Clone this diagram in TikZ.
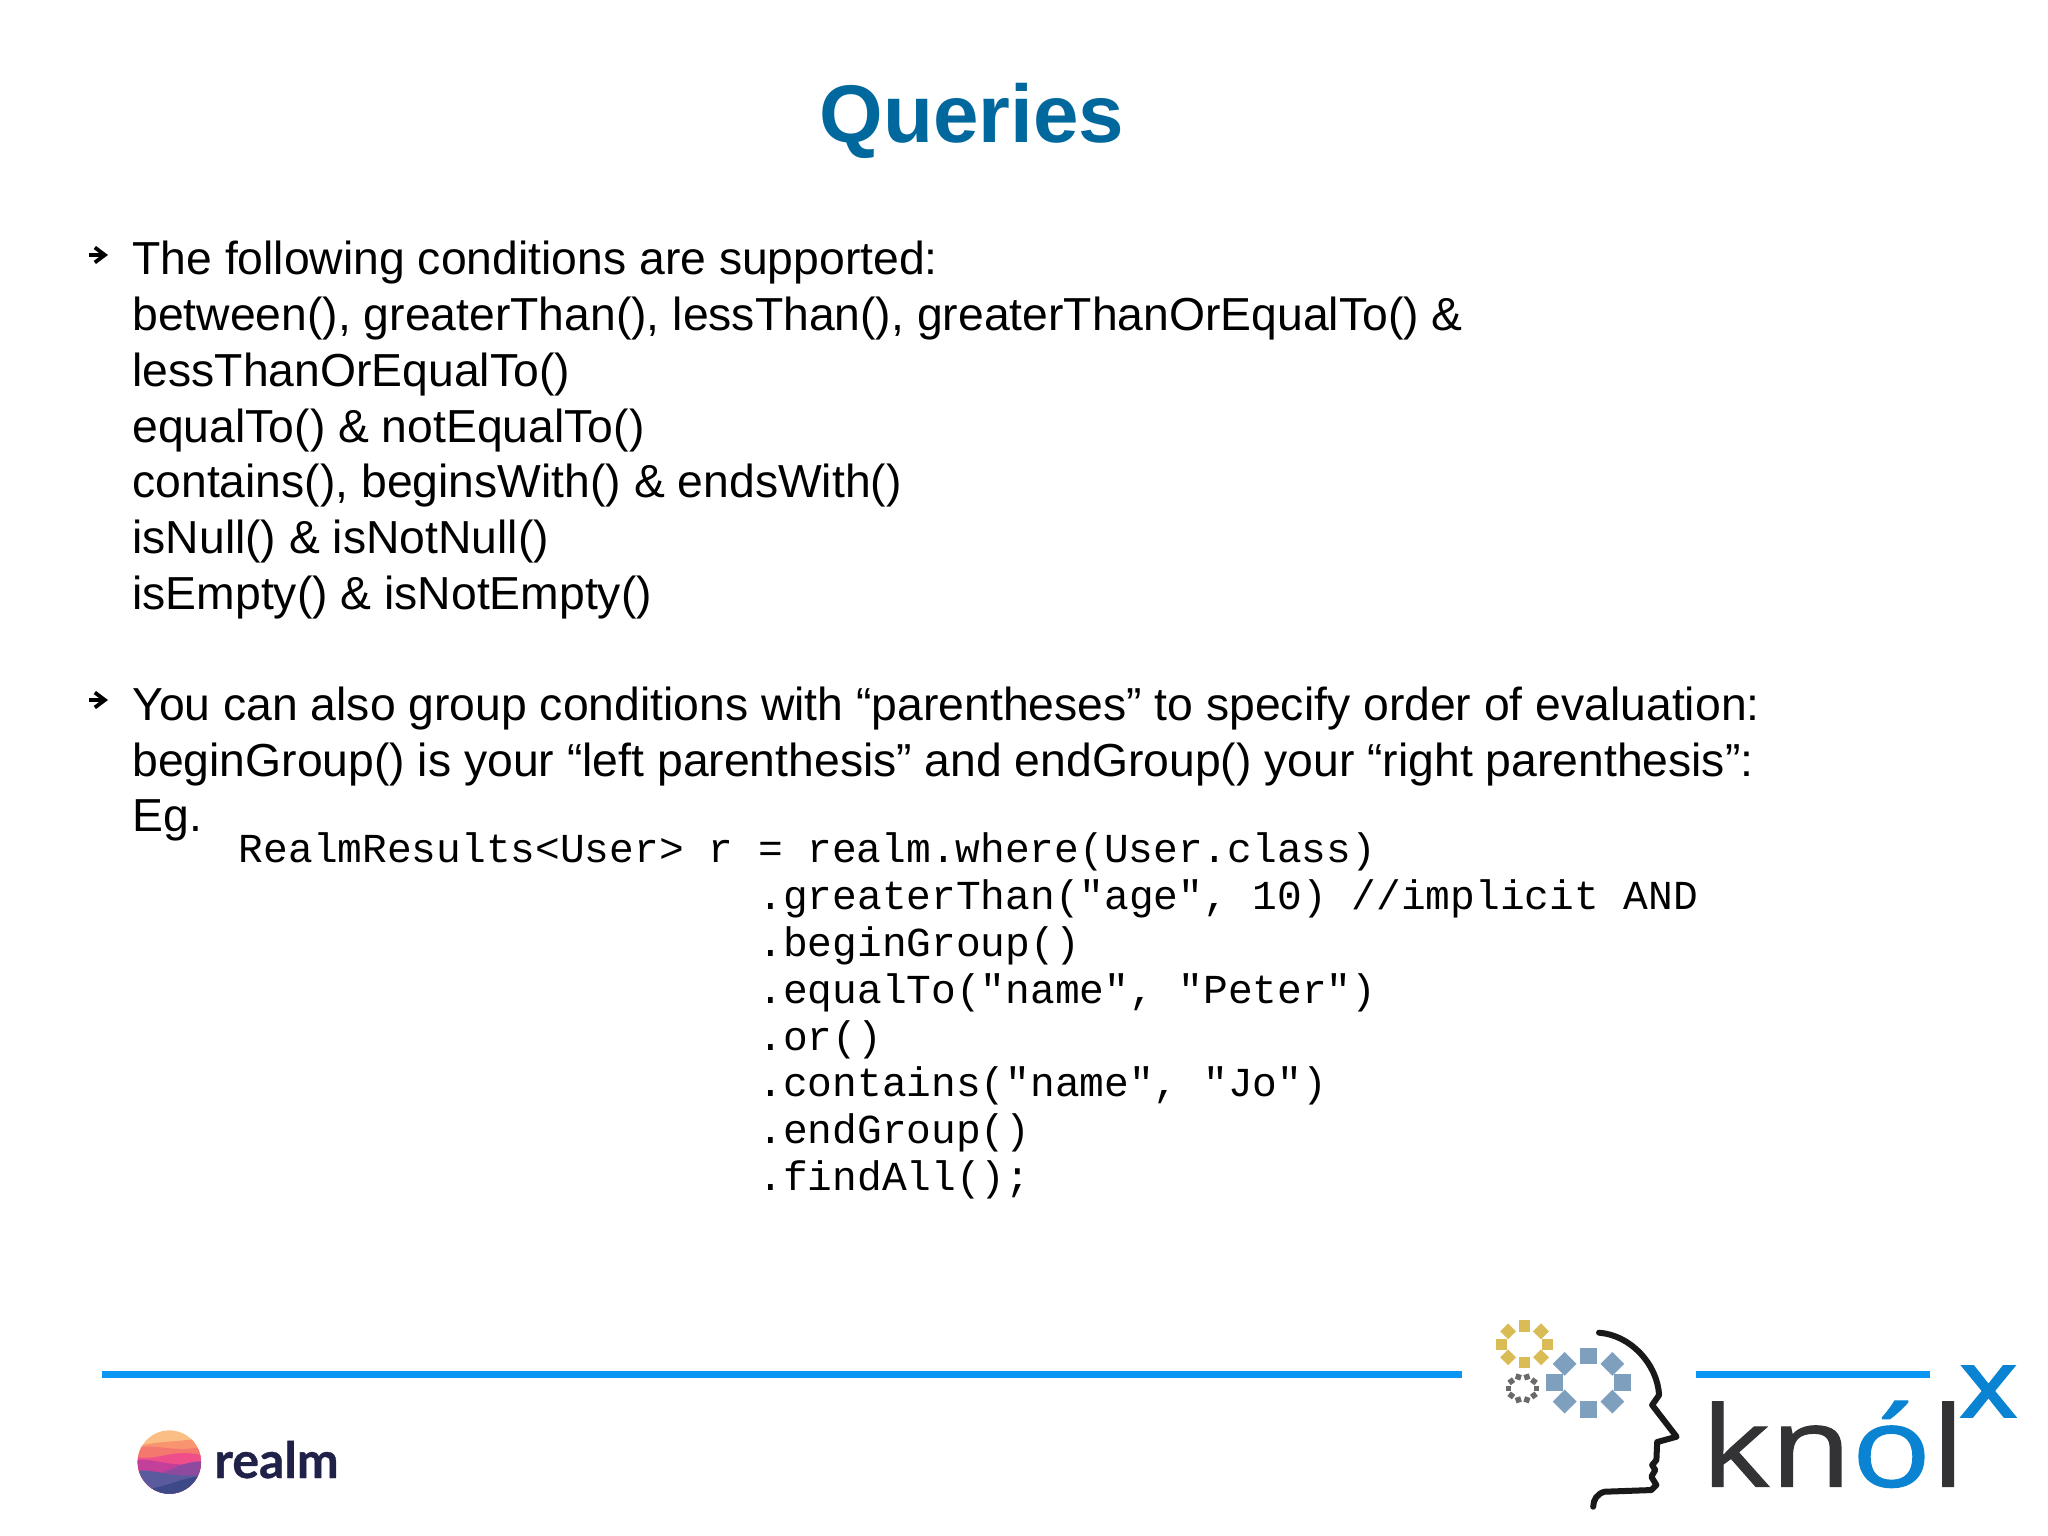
\documentclass[tikz,border=0pt]{standalone}
\usepackage{fontspec}
\setmainfont{Liberation Sans}
\setmonofont{Liberation Mono}
\newfontfamily\knolfont[FakeBold=0.9]{Open Sans}
\newfontfamily\knolxfont[FakeBold=2.6]{Open Sans}
\newfontfamily\realmfont[BoldFeatures={FakeBold=0.7}]{Lato}
\usetikzlibrary{arrows.meta}
\definecolor{titleblue}{HTML}{00689D}
\definecolor{ruleblue}{HTML}{0A96F2}
\definecolor{knolblue}{HTML}{0A84D2}
\definecolor{knolgrey}{HTML}{333335}
\definecolor{ringgold}{HTML}{D9BC55}
\definecolor{ringblue}{HTML}{7F9FBF}
\definecolor{ringgrey}{HTML}{6A6A6A}
\definecolor{realmnavy}{HTML}{1F2148}
\tikzset{>=latex,
  titletext/.style={inner sep=0, text=titleblue, font=\fontsize{40.9}{44}\selectfont\bfseries},
  bodytext/.style={inner sep=0, anchor=north west, align=left, font=\fontsize{23.15}{27.87}\selectfont},
  codetext/.style={inner sep=0, anchor=north west, align=left, font=\fontsize{20.6}{23.4}\selectfont\ttfamily},
  bulletmark/.style={-{Straight Barb[length=5pt,width=7.5pt]}, line width=1.9pt},
  footrule/.style={ruleblue, line width=3.5pt},
  ringsquare/.style={inner sep=0, minimum size=#1, rectangle}
}
\begin{document}
\begin{tikzpicture}[x=0.5pt, y=-0.5pt]
\useasboundingbox (0,0) rectangle (2048,1535);
\node[titletext] (title) at (972,121) {Queries};
% bullets
\coordinate (tailone) at (89,255);
\coordinate (headone) at (108,255);
\coordinate (tailtwo) at (89,700);
\coordinate (headtwo) at (108,700);
\draw[bulletmark] (tailone) -- (headone);
\draw[bulletmark] (tailtwo) -- (headtwo);
\node[bodytext] (conditions) at (132,241) {The following conditions are supported:\\
between(), greaterThan(), lessThan(), greaterThanOrEqualTo() \&\\
lessThanOrEqualTo()\\
equalTo() \& notEqualTo()\\
contains(), beginsWith() \& endsWith()\\
isNull() \& isNotNull()\\
isEmpty() \& isNotEmpty()};
\node[bodytext] (grouping) at (132,686.5) {You can also group conditions with “parentheses” to specify order of evaluation:\\
beginGroup() is your “left parenthesis” and endGroup() your “right parenthesis”:\\
Eg.};
\node[codetext] (query) at (238.5,832) {RealmResults<User> r = realm.where(User.class)};
\node[codetext] (chain) at (758,879.5) {.greaterThan("age", 10) //implicit AND\\
.beginGroup()\\
.equalTo("name", "Peter")\\
.or()\\
.contains("name", "Jo")\\
.endGroup()\\
.findAll();};
% footer rules
\coordinate (ruleastart) at (102,1374.5);
\coordinate (ruleaend) at (1462,1374.5);
\coordinate (rulebstart) at (1696,1374.5);
\coordinate (rulebend) at (1930,1374.5);
\draw[footrule] (ruleastart) -- (ruleaend);
\draw[footrule] (rulebstart) -- (rulebend);
% realm logo
\begin{scope}[shift={(90,1350)}, x=0.1667pt, y=-0.1667pt]
\begin{scope}
\clip (238,336) circle (95);
\fill[fill={rgb,255:red,251;green,191;blue,133}] (130,230) rectangle (345,440);
\fill[fill={rgb,255:red,248;green,148;blue,112}] (130,295) .. controls (190,270) and (250,280) .. (345,262) -- (345,440) -- (130,440) -- cycle;
\fill[fill={rgb,255:red,244;green,120;blue,110}] (130,298) .. controls (190,275) and (240,310) .. (345,290) -- (345,440) -- (130,440) -- cycle;
\fill[fill={rgb,255:red,238;green,78;blue,138}] (130,318) .. controls (200,340) and (240,290) .. (345,318) -- (345,440) -- (130,440) -- cycle;
\fill[fill={rgb,255:red,194;green,64;blue,154}] (130,332) .. controls (190,318) and (240,360) .. (345,335) -- (345,440) -- (130,440) -- cycle;
\fill[fill={rgb,255:red,142;green,74;blue,159}] (215,370) .. controls (260,350) and (300,330) .. (345,335) -- (345,440) -- (215,440) -- cycle;
\fill[fill={rgb,255:red,90;green,90;blue,159}] (130,365) .. controls (190,350) and (240,390) .. (345,372) -- (345,440) -- (130,440) -- cycle;
\fill[fill={rgb,255:red,62;green,74;blue,136}] (170,418) .. controls (230,410) and (280,380) .. (345,378) -- (345,440) -- (170,440) -- cycle;
\end{scope}
\end{scope}
\node[inner sep=0, anchor=base west, text=realmnavy, font=\fontsize{25}{28}\selectfont\realmfont\bfseries] (realm) at (214,1478) {realm};
% knolx logo
\begin{scope}[shift={(1440,1290)}, x=0.1939pt, y=-0.1667pt]
\foreach \ang in {0,45,...,315}{
  \node[ringsquare=5.6pt, fill=ringgold, rotate=\ang] (gold\ang) at ([shift={(218,163)}]\ang:60 and 55) {};
  \node[ringsquare=8.4pt, fill=ringblue, rotate=\ang] (blue\ang) at ([shift={(383,278)}]\ang:87 and 80) {};
}
\foreach \ang in {0,36,...,324}{
  \node[ringsquare=2.8pt, fill=ringgrey, rotate=\ang] (grey\ang) at ([shift={(213,295)}]\ang:36) {};
}
\draw[line width=3pt, line cap=round, line join=round, draw=black!90] (410,128)
  .. controls (490,135) and (560,220) .. (565,315)
  -- (547,345) -- (610,440) -- (560,456) -- (558,510) -- (547,525) -- (555,540)
  -- (545,560) -- (558,585) -- (545,600) -- (425,605)
  .. controls (405,610) and (395,630) .. (395,650);
\node[inner sep=0, anchor=base west, xscale=1.18, text=knolgrey, font=\fontsize{56}{60}\selectfont\knolfont] (knol) at (672,590) {kn\textcolor{knolblue}{ó}l};
\node[inner sep=0, anchor=base west, xscale=1.15, text=knolblue, font=\fontsize{47}{50}\selectfont\knolxfont] (knolx) at (1340,380) {x};
\end{scope}
\end{tikzpicture}
\end{document}
